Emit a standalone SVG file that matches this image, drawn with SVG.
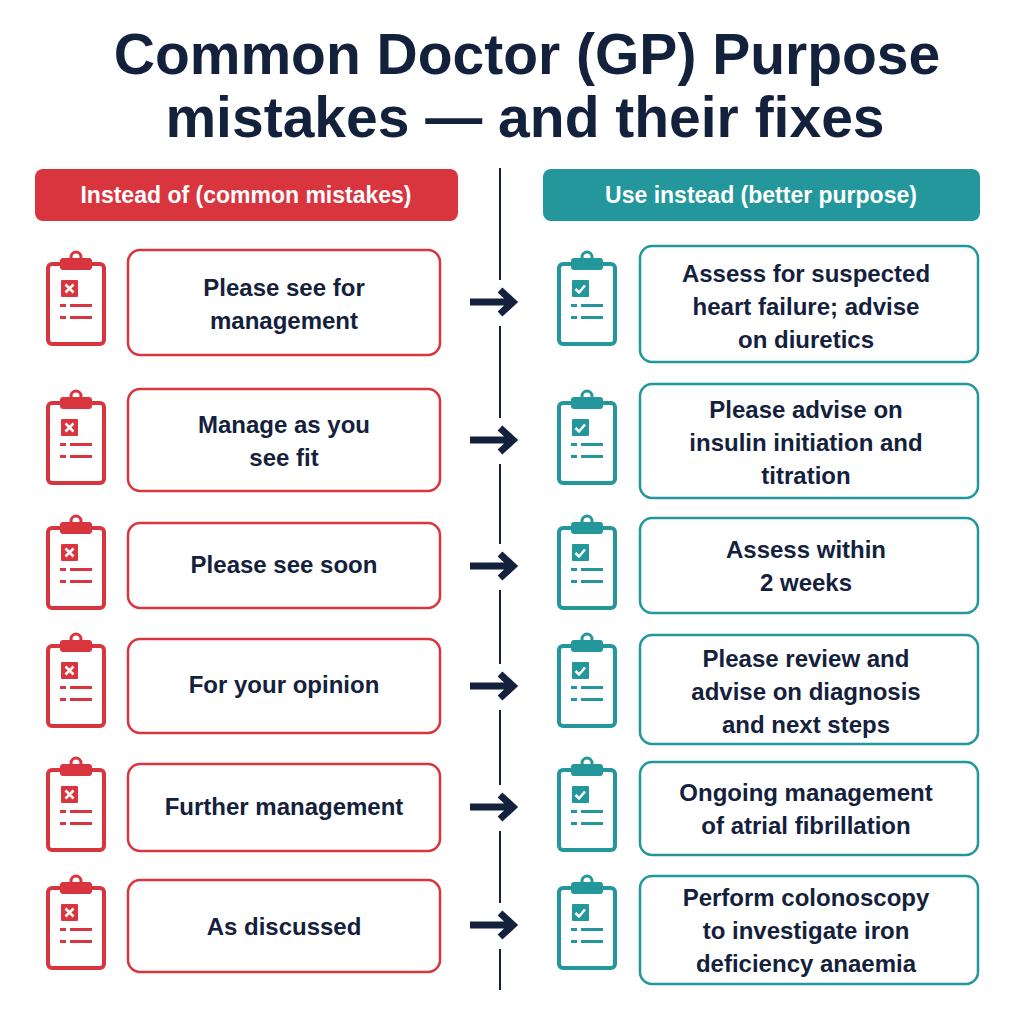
<svg xmlns="http://www.w3.org/2000/svg" xmlns:xlink="http://www.w3.org/1999/xlink" width="1024" height="1024" viewBox="0 0 1024 1024">
<style>
text{font-family:"Liberation Sans",Arial,sans-serif;font-weight:bold;fill:#14213d;text-anchor:middle}
.title{font-size:57px}
.hd{font-size:23px;fill:#fff}
.t{font-size:24px}
.lb{fill:#fff;stroke:#d9353f;stroke-width:2.5}
.rb{fill:#fff;stroke:#23979b;stroke-width:2.5}
.arrow{stroke:#14213d;stroke-width:7;fill:none}
</style>
<defs>
<g id="clip">
<rect x="2" y="12" width="56" height="80" rx="4" fill="none" stroke="currentColor" stroke-width="4"/>
<rect x="14" y="6" width="32" height="12" rx="3" fill="currentColor"/>
<circle cx="30" cy="5" r="5" fill="none" stroke="currentColor" stroke-width="3"/>
<rect x="15" y="28" width="17" height="17" rx="1" fill="currentColor"/>
<rect x="14" y="52" width="6" height="3" fill="currentColor"/><rect x="24" y="52" width="22" height="3" fill="currentColor"/>
<rect x="14" y="64" width="6" height="3" fill="currentColor"/><rect x="24" y="64" width="22" height="3" fill="currentColor"/>
</g>
<g id="bad"><use xlink:href="#clip" style="color:#d9353f"/><path d="M19.5 32.5l8 8M27.5 32.5l-8 8" stroke="#fff" stroke-width="2.5"/></g>
<g id="good"><use xlink:href="#clip" style="color:#23979b"/><path d="M18.5 37l3.5 3.5 6-7" stroke="#fff" stroke-width="2.5" fill="none"/></g>
</defs>
<rect width="1024" height="1024" fill="#fff"/>
<text class="title" x="527" y="74">Common Doctor (GP) Purpose</text>
<text class="title" x="525" y="137">mistakes — and their fixes</text>
<g id="hdr-left"><rect x="35" y="169" width="423" height="52" rx="8" fill="#d9353f"/><text class="hd" x="246" y="203">Instead of (common mistakes)</text></g>
<g id="hdr-right"><rect x="543" y="169" width="437" height="52" rx="8" fill="#23979b"/><text class="hd" x="761" y="203">Use instead (better purpose)</text></g>
<g id="connectors">
<path d="M500 168V280M500 326V418M500 464V544M500 590V664M500 710V785M500 831V903M500 949V990" stroke="#14213d" stroke-width="2"/>
<g class="arrow">
<path d="M470 302h38M500 290l13 12-13 12"/>
<path d="M470 440h38M500 428l13 12-13 12"/>
<path d="M470 566h38M500 554l13 12-13 12"/>
<path d="M470 686h38M500 674l13 12-13 12"/>
<path d="M470 807h38M500 795l13 12-13 12"/>
<path d="M470 925h38M500 913l13 12-13 12"/>
</g>
</g>
<g id="row1">
<use xlink:href="#bad" x="46" y="252"/><rect class="lb" x="128" y="250" width="312" height="105" rx="12"/>
<text class="t" x="284" y="296">Please see for</text><text class="t" x="284" y="329">management</text>
<use xlink:href="#good" x="557" y="252"/><rect class="rb" x="640" y="246" width="338" height="116" rx="12"/>
<text class="t" x="806" y="282">Assess for suspected</text><text class="t" x="806" y="315">heart failure; advise</text><text class="t" x="806" y="348">on diuretics</text>
</g>
<g id="row2">
<use xlink:href="#bad" x="46" y="391"/><rect class="lb" x="128" y="389" width="312" height="102" rx="12"/>
<text class="t" x="284" y="433">Manage as you</text><text class="t" x="284" y="466">see fit</text>
<use xlink:href="#good" x="557" y="391"/><rect class="rb" x="640" y="384" width="338" height="114" rx="12"/>
<text class="t" x="806" y="418">Please advise on</text><text class="t" x="806" y="451">insulin initiation and</text><text class="t" x="806" y="484">titration</text>
</g>
<g id="row3">
<use xlink:href="#bad" x="46" y="516"/><rect class="lb" x="128" y="523" width="312" height="85" rx="12"/>
<text class="t" x="284" y="573">Please see soon</text>
<use xlink:href="#good" x="557" y="516"/><rect class="rb" x="640" y="518" width="338" height="95" rx="12"/>
<text class="t" x="806" y="558">Assess within</text><text class="t" x="806" y="591">2 weeks</text>
</g>
<g id="row4">
<use xlink:href="#bad" x="46" y="634"/><rect class="lb" x="128" y="639" width="312" height="94" rx="12"/>
<text class="t" x="284" y="693">For your opinion</text>
<use xlink:href="#good" x="557" y="634"/><rect class="rb" x="640" y="635" width="338" height="109" rx="12"/>
<text class="t" x="806" y="667">Please review and</text><text class="t" x="806" y="700">advise on diagnosis</text><text class="t" x="806" y="733">and next steps</text>
</g>
<g id="row5">
<use xlink:href="#bad" x="46" y="758"/><rect class="lb" x="128" y="764" width="312" height="87" rx="12"/>
<text class="t" x="284" y="815">Further management</text>
<use xlink:href="#good" x="557" y="758"/><rect class="rb" x="640" y="762" width="338" height="93" rx="12"/>
<text class="t" x="806" y="801">Ongoing management</text><text class="t" x="806" y="834">of atrial fibrillation</text>
</g>
<g id="row6">
<use xlink:href="#bad" x="46" y="876"/><rect class="lb" x="128" y="880" width="312" height="92" rx="12"/>
<text class="t" x="284" y="935">As discussed</text>
<use xlink:href="#good" x="557" y="876"/><rect class="rb" x="640" y="876" width="338" height="108" rx="12"/>
<text class="t" x="806" y="906">Perform colonoscopy</text><text class="t" x="806" y="939">to investigate iron</text><text class="t" x="806" y="972">deficiency anaemia</text>
</g>
</svg>
